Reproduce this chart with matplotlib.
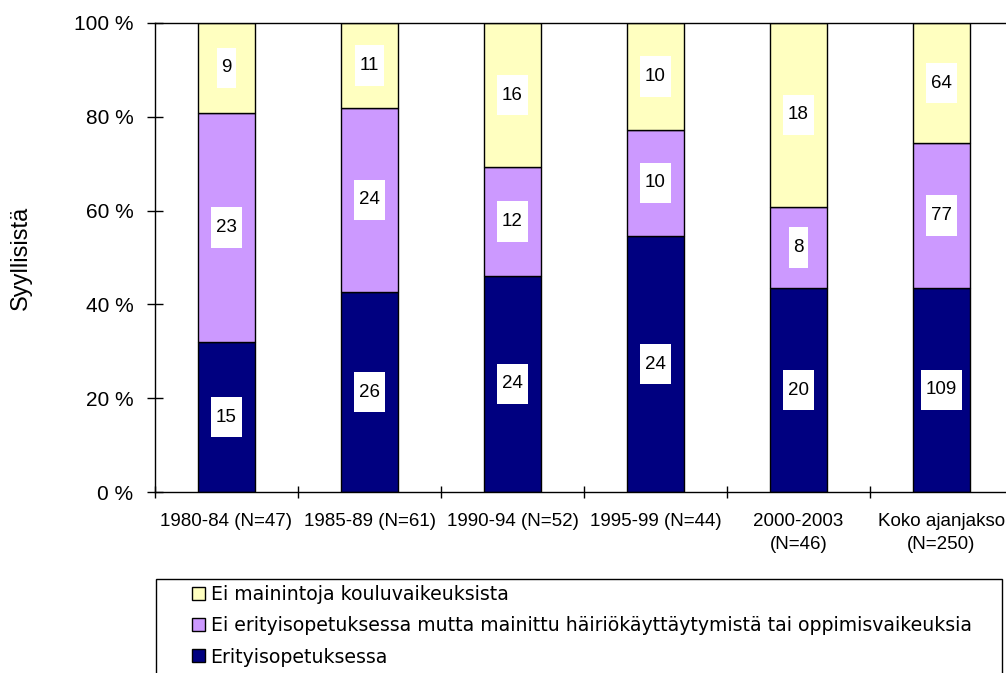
import matplotlib
matplotlib.use("Agg")
import matplotlib.pyplot as plt
from matplotlib.patches import Rectangle
import numpy as np

categories = ["1980-84 (N=47)", "1985-89 (N=61)", "1990-94 (N=52)",
              "1995-99 (N=44)", "2000-2003\n(N=46)", "Koko ajanjakso\n(N=250)"]
series_names = ["Erityisopetuksessa",
                "Ei erityisopetuksessa mutta mainittu häiriökäyttäytymistä tai oppimisvaikeuksia",
                "Ei mainintoja kouluvaikeuksista"]
erityis = [15, 26, 24, 24, 20, 109]
hairio = [23, 24, 12, 10, 8, 77]
ei_mainintoja = [9, 11, 16, 10, 18, 64]
colors = ["#000080", "#CC99FF", "#FFFFC0"]
yticks = [0, 20, 40, 60, 80, 100]

plt.rcParams['font.family'] = ['Liberation Sans', 'DejaVu Sans']

fig = plt.figure(figsize=(10.06, 6.73), dpi=100)
ax = fig.add_axes([155/1006, 1-492/673, (1013-155)/1006, (492-23)/673])

data = np.array([erityis, hairio, ei_mainintoja], dtype=float)
totals = data.sum(axis=0)
pct = data / totals * 100
x = np.arange(len(categories))
bottom = np.zeros(len(categories))
handles = []
for i in range(3):
    b = ax.bar(x, pct[i], bottom=bottom, width=0.405, color=colors[i],
               edgecolor="black", linewidth=1.0, label=series_names[i])
    handles.append(b)
    for j in range(len(categories)):
        ax.text(x[j], bottom[j] + pct[i][j] / 2, str(int(data[i][j])),
                ha="center", va="center", fontsize=13.5,
                bbox=dict(boxstyle="square,pad=0.25", facecolor="white",
                          edgecolor="none", mutation_aspect=2.5))
    bottom += pct[i]

ax.set_xlim(-0.5, len(categories) - 0.5)
ax.set_ylim(0, 100)
ax.set_yticks(yticks)
ax.set_yticklabels([f"{v} %" for v in yticks], fontsize=15)
ax.set_xticks(x)
ax.set_xticklabels(categories, fontsize=13.5, linespacing=1.5)
ax.tick_params(axis="x", length=0, pad=15)
ax.set_xticks(np.arange(len(categories) + 1) - 0.5, minor=True)
ax.tick_params(axis="x", which="minor", direction="inout", length=8, width=1)
ax.tick_params(axis="y", direction="inout", length=11, width=1, pad=10)
for s in ["left", "bottom", "top"]:
    ax.spines[s].set_linewidth(1.0)
ax.spines["right"].set_visible(False)
ax.set_ylabel("Syyllisistä", fontsize=17, labelpad=30)

# legend frame
fig.patches.append(Rectangle((156/1006, -0.05), (1002-156)/1006, 1-579/673+0.05,
                             transform=fig.transFigure, fill=False,
                             edgecolor="black", linewidth=1.0))
leg = fig.legend(handles[::-1], series_names[::-1], loc="upper left",
                 bbox_to_anchor=(192/1006, 1-585/673), frameon=False,
                 prop={"family": "DejaVu Sans", "size": 13.6}, handlelength=0.68,
                 handleheight=0.68, handletextpad=0.3, labelspacing=0.65,
                 borderaxespad=0, borderpad=0)

fig.savefig("out.png", dpi=100)
